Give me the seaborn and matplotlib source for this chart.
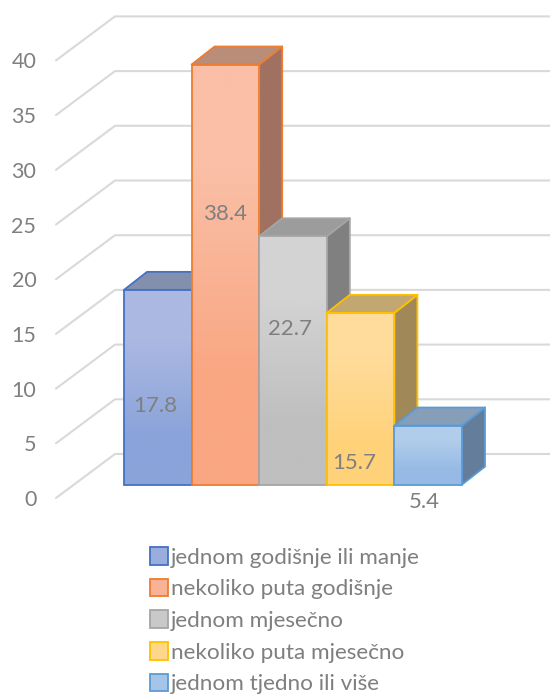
import numpy as np
import pandas as pd
import matplotlib
matplotlib.use("Agg")
import matplotlib.pyplot as plt
import matplotlib.colors as mcolors
from matplotlib.patches import Patch, Polygon
import seaborn as sns

# Data
categories = ["jednom godišnje ili manje", "nekoliko puta godišnje", "jednom mjesečno",
              "nekoliko puta mjesečno", "jednom tjedno ili više"]
values = [17.8, 38.4, 22.7, 15.7, 5.4]
y_ticks = [0, 5, 10, 15, 20, 25, 30, 35, 40]

# Colours per bar
edge_colors = ["#4472c4", "#ed7d31", "#a5a5a5", "#ffc000", "#5b9bd5"]
grad_top = ["#abb9e2", "#fabfa6", "#d3d3d3", "#ffdc9b", "#b2cdeb"]
grad_bottom = ["#8aa3d9", "#f9a682", "#bfbfbf", "#ffd27a", "#96bae5"]
top_colors = ["#8290ae", "#b98d78", "#9c9c9c", "#c2a771", "#879eb8"]
side_colors = ["#6e7c9c", "#a07160", "#808080", "#a08858", "#647d9b"]
legend_fill = ["#9aaede", "#f9b295", "#c9c9c9", "#ffd78a", "#a4c4e8"]

# Data label placement (category offset, height on the value scale)
label_dx = [-0.04, 0.0, -0.04, -0.10, -0.06]
label_y = [7.2, 24.7, 14.2, 2.0, -1.6]

GREY = "#7f7f7f"
W, H = 550, 695
PX_PER_UNIT = 10.94
BAR_PX = 67.6
BASE_PY = 484.6
depth_x = 23 / BAR_PX
depth_y = 18 / PX_PER_UNIT

sns.set_style("white")
plt.rcParams["font.family"] = ["Lato", "DejaVu Sans"]

df = pd.DataFrame({"cat": categories, "val": values})
fig = plt.figure(figsize=(W / 100, H / 100), dpi=100)

# Wall axes: value scale runs along the front end of the side wall
wall_bottom = 498
wall_top = wall_bottom - 40 * PX_PER_UNIT
ax_wall = fig.add_axes([56 / W, (H - wall_bottom) / H, (W - 56) / W, (wall_bottom - wall_top) / H])
ax_wall.set_xlim(0, W - 56)
ax_wall.set_ylim(0, 40)
for t in y_ticks:
    ax_wall.plot([0, 59, W - 56], [t, t + 44 / PX_PER_UNIT, t + 44 / PX_PER_UNIT],
                 color="#d9d9d9", lw=1.5, clip_on=False, solid_joinstyle="round")
ax_wall.set_yticks(y_ticks)
ax_wall.set_xticks([])
ax_wall.tick_params(axis="y", length=0, pad=14.2, labelsize=15.5, labelcolor=GREY)
for lab in ax_wall.get_yticklabels():
    lab.set_va("center_baseline")
sns.despine(ax=ax_wall, left=True, bottom=True)
ax_wall.patch.set_alpha(0)

# Bars axes spanning the whole figure
ax = fig.add_axes([0, 0, 1, 1], zorder=2)
sns.barplot(data=df, x="cat", y="val", hue="cat", palette=legend_fill, width=1,
            dodge=False, legend=False, saturation=1, ax=ax)

x_left = -0.5 - 124 / BAR_PX
x_right = -0.5 + (W - 124) / BAR_PX
y_low = -(H - BASE_PY) / PX_PER_UNIT
y_high = BASE_PY / PX_PER_UNIT

for i, patch in enumerate(ax.patches):
    x0 = patch.get_x()
    x1 = x0 + patch.get_width()
    v = patch.get_height()
    ec = edge_colors[i]
    z = 10 * (i + 1)
    top = Polygon([(x0, v), (x1, v), (x1 + depth_x, v + depth_y), (x0 + depth_x, v + depth_y)],
                  facecolor=top_colors[i], edgecolor=ec, lw=1.3, joinstyle="round", zorder=z)
    side = Polygon([(x1, 0), (x1, v), (x1 + depth_x, v + depth_y), (x1 + depth_x, depth_y)],
                   facecolor=side_colors[i], edgecolor=ec, lw=1.3, joinstyle="round", zorder=z)
    ax.add_patch(side)
    ax.add_patch(top)
    grad = np.array([[mcolors.to_rgb(grad_top[i])], [mcolors.to_rgb(grad_bottom[i])]])
    patch.set_facecolor("none")
    patch.set_edgecolor(ec)
    patch.set_linewidth(1.3)
    patch.set_zorder(z + 2)
    img = ax.imshow(grad, extent=(x0, x1, 0, v), aspect="auto", interpolation="bilinear",
                    origin="upper", zorder=z + 1)
    img.set_clip_path(patch)
    ax.text(i + label_dx[i], label_y[i], f"{values[i]:.1f}", ha="center", va="center",
            color=GREY, fontsize=16, zorder=200)

ax.set_xlim(x_left, x_right)
ax.set_ylim(y_low, y_high)
ax.axis("off")

handles = [Patch(facecolor=legend_fill[i], edgecolor=edge_colors[i], lw=1.3) for i in range(5)]
fig.legend(handles, categories, loc="upper left", bbox_to_anchor=(143 / W, 1 - 540.5 / H),
           frameon=False, fontsize=16.2, labelcolor=GREY, handlelength=0.82, handleheight=0.82,
           handletextpad=0.12, labelspacing=0.49, borderpad=0.3, borderaxespad=0)

fig.savefig("out.png", dpi=100)
